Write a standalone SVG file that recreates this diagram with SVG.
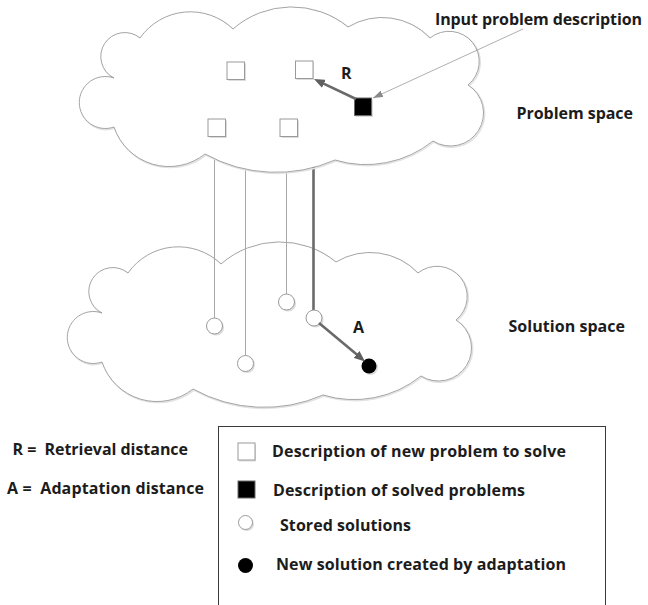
<svg xmlns="http://www.w3.org/2000/svg" xmlns:xlink="http://www.w3.org/1999/xlink" width="648" height="605" viewBox="0 0 648 605">
  <style>
    .cloud { fill: #ffffff; stroke: #9a9a9a; stroke-width: 0.9; }
    .cloud-shadow { fill: none; stroke: #e2e2e2; stroke-width: 1.6; }
    .box { fill: #ffffff; stroke: #9a9a9a; stroke-width: 1; }
    .solid { fill: #000000; stroke: #6a6a6a; stroke-width: 1; }
    .shadow { fill: #dcdcdc; stroke: none; }
    .thin { stroke: #a8a8a8; stroke-width: 1; fill: none; }
    .thick { stroke: #6a6a6a; stroke-width: 2.6; fill: none; }
    .pointer { stroke: #9a9a9a; stroke-width: 0.8; fill: none; }
    .label { font-family: "Open Sans", "Liberation Sans", sans-serif; font-weight: 700; font-size: 16px; fill: #1c1c1c; }
    .legend-frame { fill: #ffffff; stroke: #3a3a3a; stroke-width: 1; }
  </style>
  <defs>
    <path id="cloudShape" d="M140,38 A61.5,61.5 0 0 1 233,29 A89,89 0 0 1 348,27 A66,66 0 0 1 430,38 A30,30 0 1 1 468,85 A33,33 0 1 1 433,141 A107,107 0 0 1 335,160 A147,147 0 0 1 205,154 A58,58 0 0 1 114,127 A26,26 0 1 1 114,78 A24,24 0 1 1 140,38 Z"/>
    <marker id="headDark" markerUnits="userSpaceOnUse" markerWidth="11" markerHeight="9" refX="5" refY="4.5" orient="auto">
      <path d="M0,0 L11,4.5 L0,9 Z" fill="#5f5f5f"/>
    </marker>
    <marker id="headLight" markerUnits="userSpaceOnUse" markerWidth="10" markerHeight="7" refX="10" refY="3.5" orient="auto">
      <path d="M0,0 L10,3.5 L0,7 Z" fill="#8a8a8a"/>
    </marker>
  </defs>

  <!-- solution space cloud (drawn first so the links pass over its rim) -->
  <g id="solution-space">
    <use xlink:href="#cloudShape" class="cloud-shadow" transform="translate(-11,236)"/>
    <use xlink:href="#cloudShape" class="cloud" transform="translate(-12,235)"/>
  </g>

  <!-- links from problems to their stored solutions -->
  <g id="connectors">
    <line class="thin" x1="214.5" y1="150" x2="214.5" y2="318"/>
    <line class="thin" x1="245.5" y1="150" x2="245.5" y2="355.5"/>
    <line class="thin" x1="286.5" y1="150" x2="286.5" y2="294"/>
    <line class="thick" x1="313.5" y1="150" x2="313.5" y2="310"/>
  </g>

  <!-- problem space cloud -->
  <g id="problem-space">
    <use xlink:href="#cloudShape" class="cloud-shadow" transform="translate(1,1)"/>
    <use xlink:href="#cloudShape" class="cloud"/>
  </g>

  <!-- stored problem descriptions -->
  <g id="problem-1">
    <rect class="shadow" x="228.5" y="63.5" width="17.5" height="17.5"/>
    <rect class="box" x="227" y="62" width="17.5" height="17.5"/>
  </g>
  <g id="problem-2">
    <rect class="shadow" x="296.5" y="62.5" width="17.5" height="17.5"/>
    <rect class="box" x="295.5" y="61" width="17.5" height="17.5"/>
  </g>
  <g id="problem-3">
    <rect class="shadow" x="209.5" y="120.5" width="17.5" height="17.5"/>
    <rect class="box" x="208" y="119" width="17.5" height="17.5"/>
  </g>
  <g id="problem-4">
    <rect class="shadow" x="281.5" y="120.5" width="17.5" height="17.5"/>
    <rect class="box" x="280" y="119" width="17.5" height="17.5"/>
  </g>
  <g id="input-problem">
    <rect class="shadow" x="355.5" y="99.5" width="17.5" height="17.5"/>
    <rect class="solid" x="354.5" y="98" width="17" height="17.5"/>
  </g>

  <!-- stored solutions -->
  <g id="solution-1">
    <circle class="shadow" cx="216" cy="327.5" r="8"/>
    <circle class="box" cx="214.5" cy="326" r="8"/>
  </g>
  <g id="solution-2">
    <circle class="shadow" cx="247" cy="365" r="8"/>
    <circle class="box" cx="245.5" cy="363.5" r="8"/>
  </g>
  <g id="solution-3">
    <circle class="shadow" cx="288" cy="303.5" r="8"/>
    <circle class="box" cx="286.5" cy="302" r="8"/>
  </g>
  <g id="solution-4">
    <circle class="shadow" cx="315.5" cy="319.5" r="8"/>
    <circle class="box" cx="314" cy="318" r="8"/>
  </g>
  <g id="adapted-solution">
    <circle class="shadow" cx="370.5" cy="367.5" r="7.5"/>
    <circle cx="369" cy="366" r="7.5" fill="#000000"/>
  </g>

  <!-- retrieval, adaptation and input arrows -->
  <g id="arrows">
    <line class="thick" x1="356" y1="99" x2="319.4" y2="81.6" marker-end="url(#headDark)" stroke="#5f5f5f" stroke-width="3"/>
    <line class="thick" x1="319" y1="323" x2="360.4" y2="357.6" marker-end="url(#headDark)" stroke="#5f5f5f" stroke-width="3"/>
    <line class="pointer" x1="523" y1="29" x2="373" y2="98" marker-end="url(#headLight)"/>
  </g>

  <!-- labels -->
  <g id="labels">
    <text class="label" x="341" y="78.5">R</text>
    <text class="label" x="353" y="333">A</text>
    <text class="label" x="435" y="25" textLength="207" lengthAdjust="spacing">Input problem description</text>
    <text class="label" x="516.5" y="118.5" textLength="116.5" lengthAdjust="spacing">Problem space</text>
    <text class="label" x="508.5" y="332" textLength="116.5" lengthAdjust="spacing">Solution space</text>
  </g>

  <!-- key -->
  <g id="abbreviations">
    <text class="label" x="12.5" y="455" xml:space="preserve" textLength="175.5" lengthAdjust="spacing">R =  Retrieval distance</text>
    <text class="label" x="7" y="494" xml:space="preserve" textLength="197" lengthAdjust="spacing">A =  Adaptation distance</text>
  </g>
  <g id="legend">
    <rect class="legend-frame" x="218.5" y="426.5" width="387" height="200"/>
    <rect class="shadow" x="239" y="444.5" width="17" height="17"/>
    <rect class="box" x="238" y="443" width="17" height="17"/>
    <text class="label" x="272" y="456.5" textLength="294" lengthAdjust="spacing">Description of new problem to solve</text>
    <rect class="solid" x="238" y="481" width="17" height="17" stroke="none"/>
    <text class="label" x="273" y="495.5" textLength="252" lengthAdjust="spacing">Description of solved problems</text>
    <circle class="shadow" cx="247" cy="524" r="7"/>
    <circle class="box" cx="245.5" cy="522.5" r="7"/>
    <text class="label" x="280" y="531" textLength="131" lengthAdjust="spacing">Stored solutions</text>
    <circle cx="245.5" cy="565.5" r="7.5" fill="#000000"/>
    <text class="label" x="276" y="570" textLength="290" lengthAdjust="spacing">New solution created by adaptation</text>
  </g>
</svg>
